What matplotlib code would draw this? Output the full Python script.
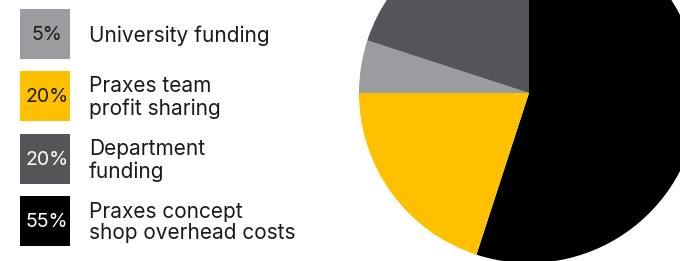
import matplotlib
matplotlib.use("Agg")
import matplotlib.pyplot as plt
from matplotlib.patches import Rectangle

# Data (pie order: clockwise from 12 o'clock)
pie_labels = ["Praxes concept\nshop overhead costs", "Praxes team\nprofit sharing",
              "University funding", "Department\nfunding"]
pie_values = [55, 20, 5, 20]
pie_colors = ["#000000", "#FFC000", "#9B9CA0", "#545559"]

# Legend order (top to bottom)
legend_labels = ["University funding", "Praxes team\nprofit sharing",
                 "Department\nfunding", "Praxes concept\nshop overhead costs"]
legend_values = [5, 20, 20, 55]
legend_colors = ["#9B9CA0", "#FFC000", "#545559", "#000000"]
legend_text_colors = ["#1a1a1a", "#1a1a1a", "#ffffff", "#ffffff"]

W, H = 680, 261
fig = plt.figure(figsize=(W / 100, H / 100), dpi=100)
ax = fig.add_axes([0, 0, 1, 1])

ax.pie(pie_values, colors=pie_colors, startangle=90, counterclock=False,
       center=(529, H - 93), radius=170, wedgeprops=dict(linewidth=0))
ax.set_xlim(0, W)
ax.set_ylim(0, H)
ax.set_aspect("auto")
ax.axis("off")

font = "Inter"
box_x, box_size = 20, 50
box_tops = [9, 71, 134, 196]
for top, lab, val, col, tcol in zip(box_tops, legend_labels, legend_values,
                                    legend_colors, legend_text_colors):
    y0 = H - top - box_size
    ax.add_patch(Rectangle((box_x, y0), box_size, box_size, facecolor=col, edgecolor="none"))
    ax.text(box_x + box_size / 2 + 2, y0 + box_size / 2 - 1, f"{val}%", ha="center", va="center",
            color=tcol, fontsize=14, family=font)
    ax.text(89, y0 + box_size / 2 - 1.5, lab, ha="left", va="center", color="#1a1a1a",
            fontsize=15, family=font, linespacing=1.12)

fig.savefig("out.png", dpi=100)
